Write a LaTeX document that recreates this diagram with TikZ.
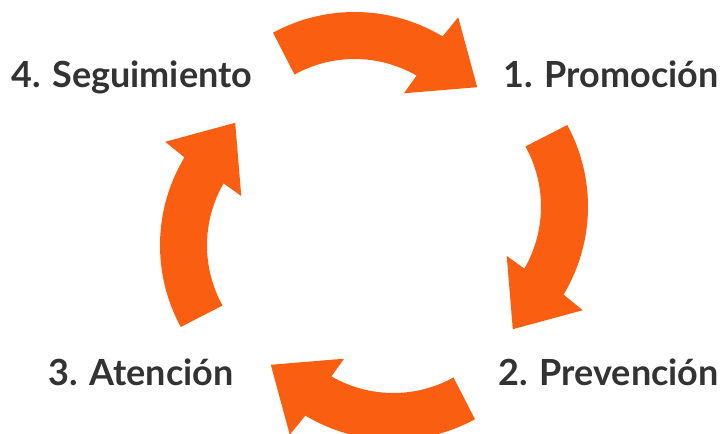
\documentclass[tikz,border=0pt]{standalone}
\usepackage{fontspec}
\setmainfont{Lato}
\definecolor{arrorange}{RGB}{250,94,16}
\definecolor{labelgray}{RGB}{51,51,51}
\tikzset{
  arrowshape/.style={fill=arrorange},
  lbl/.style={font=\fontsize{36}{36}\selectfont\bfseries, text=labelgray, inner sep=0pt}
}
\newcommand{\cyclearrow}{%
  \fill[arrowshape] (118.5:171) arc[start angle=118.5, end angle=59, radius=171]
    -- (58:195.5) -- (38:155.6) -- (61.2:102.4) -- (60:124)
    arc[start angle=60, end angle=119, radius=124] -- cycle;}
\begin{document}
\begin{tikzpicture}[x=1pt,y=1pt]
\useasboundingbox (0,0) rectangle (724,434);
\clip (0,0) rectangle (724,434);
\coordinate (O) at (374,208);
\foreach \k in {0,1,2,3}{
  \begin{scope}[shift={(O)}, rotate=-90*\k, shift={(-19.4,43)}]
    \cyclearrow
  \end{scope}
}
\node[lbl, anchor=base west] (seg) at (11,346) {4. Seguimiento};
\node[lbl, anchor=base east] (pro) at (719,346) {1. Promoción};
\node[lbl, anchor=base west] (ate) at (48,48) {3. Atención};
\node[lbl, anchor=base east] (pre) at (719,48) {2. Prevención};
\end{tikzpicture}
\end{document}
